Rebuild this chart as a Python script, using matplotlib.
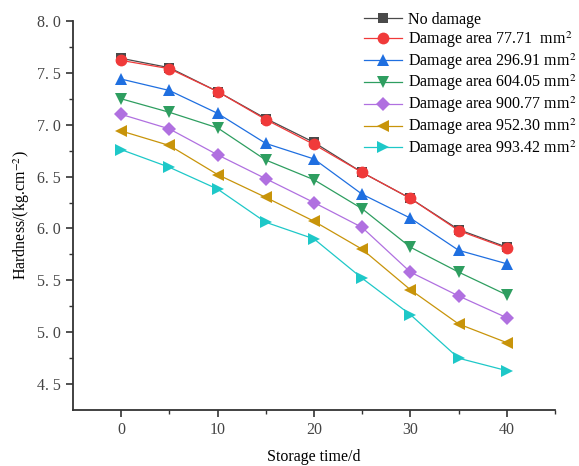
import matplotlib
matplotlib.use("Agg")
import matplotlib.pyplot as plt
from matplotlib.ticker import FixedLocator

plt.rcParams['font.family'] = ['Liberation Serif', 'DejaVu Serif']
plt.rcParams['mathtext.fontset'] = 'stix'

days = [0, 5, 10, 15, 20, 25, 30, 35, 40]
labels = ["No damage",
          "Damage area 77.71  mm$^2$",
          "Damage area 296.91 mm$^2$",
          "Damage area 604.05 mm$^2$",
          "Damage area 900.77 mm$^2$",
          "Damage area 952.30 mm$^2$",
          "Damage area 993.42 mm$^2$"]
no_damage = [7.64, 7.55, 7.32, 7.06, 6.83, 6.54, 6.29, 5.99, 5.82]
area_77 = [7.62, 7.54, 7.32, 7.05, 6.81, 6.54, 6.29, 5.98, 5.81]
area_296 = [7.44, 7.33, 7.11, 6.82, 6.67, 6.33, 6.10, 5.79, 5.66]
area_604 = [7.25, 7.12, 6.97, 6.66, 6.47, 6.19, 5.82, 5.58, 5.36]
area_900 = [7.10, 6.96, 6.71, 6.48, 6.25, 6.01, 5.58, 5.35, 5.14]
area_952 = [6.94, 6.80, 6.52, 6.30, 6.07, 5.80, 5.41, 5.08, 4.90]
area_993 = [6.76, 6.59, 6.38, 6.06, 5.90, 5.52, 5.17, 4.75, 4.63]
series = [no_damage, area_77, area_296, area_604, area_900, area_952, area_993]

colors = ['#4a4a4a', '#f03a3a', '#1f6fe0', '#2e9e60', '#b070e0', '#c8940a', '#1ec8c8']
markers = ['s', 'o', '^', 'v', 'D', '<', '>']
msizes = [7, 8.5, 8.5, 8.5, 7, 8.5, 8.5]

fig = plt.figure(figsize=(5.79, 4.66), dpi=100)
ax = fig.add_axes([0.126, 0.120, 0.8325, 0.835])

for vals, lab, c, m, ms in zip(series, labels, colors, markers, msizes):
    ax.plot(days, vals, color=c, marker=m, markersize=ms, linewidth=0.9,
            markeredgewidth=0, label=lab)

ax.set_xlim(-5, 45)
ax.set_ylim(4.25, 8.0)
ax.spines['top'].set_visible(False)
ax.spines['right'].set_visible(False)
for s in ['left', 'bottom']:
    ax.spines[s].set_linewidth(1.3)
    ax.spines[s].set_color('#333333')

ax.xaxis.set_major_locator(FixedLocator([0, 10, 20, 30, 40]))
ax.xaxis.set_minor_locator(FixedLocator([5, 15, 25, 35, 45]))
yt = [4.5, 5.0, 5.5, 6.0, 6.5, 7.0, 7.5, 8.0]
ax.yaxis.set_major_locator(FixedLocator(yt))
ax.set_yticklabels([f"{v:.1f}".replace('.', '. ') for v in yt])
ax.yaxis.set_minor_locator(FixedLocator([4.75, 5.25, 5.75, 6.25, 6.75, 7.25, 7.75]))
ax.tick_params(which='major', direction='out', length=5, width=1.2, colors='#333333',
               labelsize=11.5, labelcolor='#444444')
ax.tick_params(which='minor', direction='out', length=3, width=1.0, colors='#333333')

ax.set_xlabel("Storage time/d", fontsize=11.5, labelpad=8)
ax.set_ylabel("Hardness/(kg.cm$^{-2}$)", fontsize=11.5, labelpad=4)

ax.legend(loc='upper left', bbox_to_anchor=(0.59, 1.04), frameon=False, fontsize=11.5,
          handlelength=2.4, handletextpad=0.35, labelspacing=0.08, borderaxespad=0)

fig.savefig("out.png", dpi=100)
